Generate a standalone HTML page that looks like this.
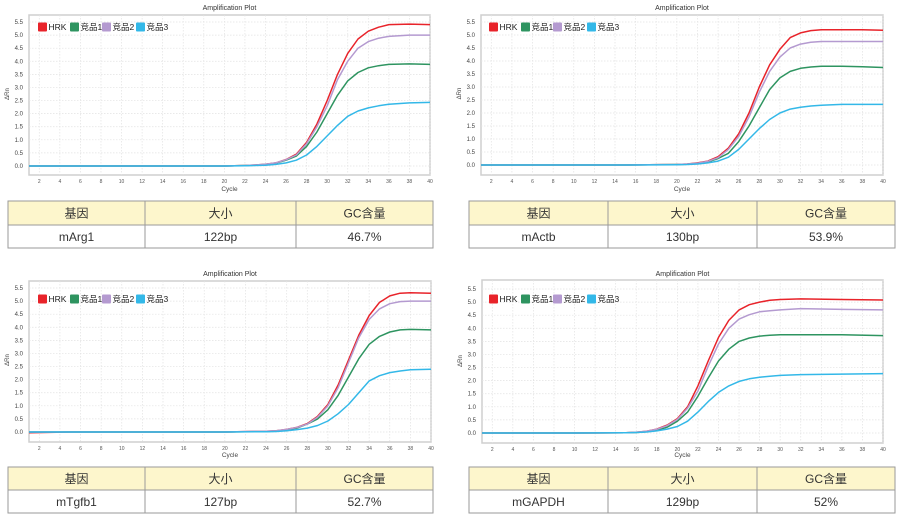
<!DOCTYPE html>
<html><head><meta charset="utf-8">
<style>
html,body{margin:0;padding:0;background:#fff;}
svg{display:block;font-family:"Liberation Sans","Noto Sans CJK SC",sans-serif;}
</style></head>
<body>
<svg id="page" width="900" height="521" viewBox="0 0 900 521" xmlns="http://www.w3.org/2000/svg"></svg>
<script>
// ---- Data ----
const seriesNames = ["HRK","竞品1","竞品2","竞品3"];
const seriesColors = ["#e8232a","#2e9460","#b49ad0","#33b8e8"];
const yTicks = [0,0.5,1,1.5,2,2.5,3,3.5,4,4.5,5,5.5];
const yTickLabels = ["0.0","0.5","1.0","1.5","2.0","2.5","3.0","3.5","4.0","4.5","5.0","5.5"];
const xTicks = [2,4,6,8,10,12,14,16,18,20,22,24,26,28,30,32,34,36,38,40];

const p1Cycles = [1,5,10,15,20,22,23,24,25,26,27,28,29,30,31,32,33,34,35,36,38,40];
const p1HRK = [0,0,0,0,0,0.02,0.04,0.07,0.12,0.25,0.45,0.9,1.6,2.5,3.5,4.3,4.85,5.15,5.3,5.4,5.42,5.4];
const p1C1 = [0,0,0,0,0,0.02,0.03,0.06,0.11,0.22,0.38,0.75,1.3,2.0,2.7,3.25,3.57,3.75,3.83,3.88,3.9,3.88];
const p1C2 = [0,0,0,0,0,0.02,0.04,0.07,0.12,0.24,0.42,0.85,1.5,2.3,3.3,4.0,4.5,4.75,4.88,4.95,5.0,5.0];
const p1C3 = [0,0,0,0,0,0.01,0.02,0.03,0.06,0.12,0.22,0.42,0.75,1.15,1.55,1.9,2.1,2.22,2.3,2.36,2.41,2.43];

const p2Cycles = [1,5,10,15,20,21,22,23,24,25,26,27,28,29,30,31,32,33,34,36,38,40];
const p2HRK = [0,0,0,0,0.02,0.04,0.08,0.15,0.32,0.65,1.2,2.0,3.0,3.85,4.45,4.9,5.08,5.17,5.2,5.2,5.2,5.18];
const p2C1 = [0,0,0,0,0.02,0.03,0.06,0.12,0.25,0.45,0.9,1.5,2.2,2.9,3.35,3.6,3.72,3.77,3.8,3.8,3.78,3.75];
const p2C2 = [0,0,0,0,0.02,0.04,0.07,0.14,0.28,0.6,1.1,1.85,2.8,3.6,4.15,4.5,4.65,4.72,4.75,4.75,4.75,4.75];
const p2C3 = [0,0,0,0,0.01,0.02,0.04,0.08,0.15,0.3,0.6,1.0,1.4,1.75,2.0,2.15,2.22,2.27,2.3,2.33,2.33,2.33];

const p3Cycles = [1,5,10,15,20,24,25,26,27,28,29,30,31,32,33,34,35,36,37,38,40];
const p3HRK = [-0.03,0,0,0,0,0.03,0.05,0.1,0.18,0.32,0.6,1.05,1.8,2.75,3.7,4.45,4.95,5.2,5.3,5.32,5.3];
const p3C1 = [0,0,0,0,0,0.02,0.04,0.08,0.15,0.3,0.5,0.85,1.4,2.1,2.8,3.35,3.65,3.82,3.9,3.92,3.9];
const p3C2 = [0,0,0,0,0,0.03,0.05,0.1,0.17,0.3,0.57,1.0,1.7,2.65,3.6,4.3,4.7,4.9,4.98,5.0,5.0];
const p3C3 = [0,0,0,0,0,0.01,0.02,0.05,0.09,0.15,0.25,0.42,0.7,1.05,1.5,1.95,2.15,2.27,2.33,2.38,2.4];

const p4Cycles = [1,5,10,15,16,17,18,19,20,21,22,23,24,25,26,27,28,29,30,32,36,40];
const p4HRK = [0,0,0,0.01,0.03,0.07,0.15,0.3,0.55,1.0,1.8,2.75,3.65,4.3,4.7,4.9,5.0,5.07,5.1,5.12,5.1,5.08];
const p4C1 = [0,0,0,0.01,0.02,0.05,0.1,0.22,0.45,0.8,1.4,2.1,2.75,3.2,3.5,3.63,3.7,3.73,3.75,3.75,3.75,3.72];
const p4C2 = [0,0,0,0.01,0.03,0.07,0.14,0.28,0.52,0.95,1.6,2.55,3.4,4.0,4.35,4.52,4.63,4.67,4.7,4.75,4.72,4.7];
const p4C3 = [0,0,0,0.01,0.02,0.04,0.08,0.15,0.25,0.45,0.8,1.2,1.55,1.8,1.97,2.07,2.13,2.17,2.2,2.23,2.25,2.27];

const tableHeaders = ["基因","大小","GC含量"];
const p1Row = ["mArg1","122bp","46.7%"];
const p2Row = ["mActb","130bp","53.9%"];
const p3Row = ["mTgfb1","127bp","52.7%"];
const p4Row = ["mGAPDH","129bp","52%"];

// ---- Layout ----
const panels = [
 {id:"marg1", cycles:p1Cycles, series:[p1HRK,p1C1,p1C2,p1C3], row:p1Row,
  x0:29,x1:430,yA:22,yB:166,bt:15,bb:175,ty:10,cy:191,lx:38,ly:27, tx0:8,tx1:433,cols:[145,296],tt:201,tm:225,tb:248},
 {id:"mactb", cycles:p2Cycles, series:[p2HRK,p2C1,p2C2,p2C3], row:p2Row,
  x0:481,x1:883,yA:22,yB:165,bt:15,bb:175,ty:10,cy:191,lx:489,ly:27, tx0:469,tx1:895,cols:[608,757],tt:201,tm:225,tb:248},
 {id:"mtgfb1", cycles:p3Cycles, series:[p3HRK,p3C1,p3C2,p3C3], row:p3Row,
  x0:29,x1:431,yA:288,yB:432,bt:281,bb:442,ty:276,cy:457,lx:38,ly:299, tx0:8,tx1:433,cols:[145,296],tt:467,tm:490,tb:513},
 {id:"mgapdh", cycles:p4Cycles, series:[p4HRK,p4C1,p4C2,p4C3], row:p4Row,
  x0:482,x1:883,yA:289,yB:433,bt:280,bb:443,ty:276,cy:457,lx:489,ly:299, tx0:469,tx1:895,cols:[608,757],tt:467,tm:490,tb:513}
];

const NS="http://www.w3.org/2000/svg";
const root=document.getElementById("page");
function mk(tag,attrs,parent){const e=document.createElementNS(NS,tag);for(const k in attrs)e.setAttribute(k,attrs[k]);(parent||root).appendChild(e);return e;}

panels.forEach(p=>{
  const g=mk("g",{});
  
  
  const xs=c=>p.x0+(c-1)*(p.x1-p.x0)/39;
  const ys=v=>p.yB-v*(p.yB-p.yA)/5.5;
  const box=mk("rect",{x:p.x0,y:p.bt,width:p.x1-p.x0,height:p.bb-p.bt,fill:"#fff",stroke:"#cfcfcf","stroke-width":1.5},g);
  
  
  xTicks.forEach(t=>{
    const l=mk("line",{x1:xs(t),x2:xs(t),y1:p.bt,y2:p.bb,stroke:"#e2e2e2","stroke-dasharray":"1.5,1.5","stroke-width":0.7},g);
    
    
    const tx=mk("text",{x:xs(t),y:p.bb+8,"font-size":5,fill:"#555","text-anchor":"middle"},g);
    tx.textContent=t;
    
    
  });
  yTicks.forEach((t,i)=>{
    const l=mk("line",{x1:p.x0,x2:p.x1,y1:ys(t),y2:ys(t),stroke:"#e2e2e2","stroke-dasharray":"1.5,1.5","stroke-width":0.7},g);
    
    
    const tx=mk("text",{x:p.x0-6,y:ys(t)+2,"font-size":6,fill:"#444","text-anchor":"end"},g);
    tx.textContent=yTickLabels[i];
    
    
  });
  const title=mk("text",{x:(p.x0+p.x1)/2,y:p.ty,"font-size":7,fill:"#333","text-anchor":"middle"},g);
  title.textContent="Amplification Plot";
  
  
  const xt=mk("text",{x:(p.x0+p.x1)/2,y:p.cy,"font-size":6.5,fill:"#444","text-anchor":"middle"},g);
  xt.textContent="Cycle";
  
  
  const ym=(p.yA+p.yB)/2;
  const yt=mk("text",{x:p.x0-20,y:ym,"font-size":6,fill:"#444","text-anchor":"middle",transform:`rotate(-90 ${p.x0-20} ${ym})`},g);
  yt.textContent="ΔRn";
  
  
  p.series.forEach((vals,si)=>{
    const pts=p.cycles.map((c,i)=>xs(c).toFixed(1)+","+ys(vals[i]).toFixed(1)).join(" ");
    const pl=mk("polyline",{points:pts,fill:"none",stroke:seriesColors[si],"stroke-width":1.5,"stroke-linejoin":"round"},g);
    
    
  });
  const lxOff=[0,32,64,98];
  seriesNames.forEach((n,si)=>{
    const lg=mk("g",{},g);
    
    
    mk("rect",{x:p.lx+lxOff[si],y:p.ly-4.5,width:9,height:9,fill:seriesColors[si],rx:1},lg);
    const t=mk("text",{x:p.lx+lxOff[si]+10.5,y:p.ly+3,"font-size":8.5,fill:"#222"},lg);
    t.textContent=n;
  });
  const tg=mk("g",{});
  
  
  mk("rect",{x:p.tx0,y:p.tt,width:p.tx1-p.tx0,height:p.tm-p.tt,fill:"#fdf6cc"},tg);
  mk("rect",{x:p.tx0,y:p.tt,width:p.tx1-p.tx0,height:p.tb-p.tt,fill:"none",stroke:"#9a9a9a","stroke-width":1},tg);
  mk("line",{x1:p.tx0,x2:p.tx1,y1:p.tm,y2:p.tm,stroke:"#9a9a9a","stroke-width":1},tg);
  p.cols.forEach(cx=>mk("line",{x1:cx,x2:cx,y1:p.tt,y2:p.tb,stroke:"#9a9a9a","stroke-width":1},tg));
  const edges=[p.tx0].concat(p.cols,[p.tx1]);
  for(let i=0;i<3;i++){
    const cx=(edges[i]+edges[i+1])/2;
    const h=mk("text",{x:cx,y:(p.tt+p.tm)/2+4.5,"font-size":12,fill:"#333","text-anchor":"middle"},tg);
    h.textContent=tableHeaders[i];
    
    
    const d=mk("text",{x:cx,y:(p.tm+p.tb)/2+4.5,"font-size":12,fill:"#333","text-anchor":"middle"},tg);
    d.textContent=p.row[i];
    
    
  }
});
</script>
</body></html>
